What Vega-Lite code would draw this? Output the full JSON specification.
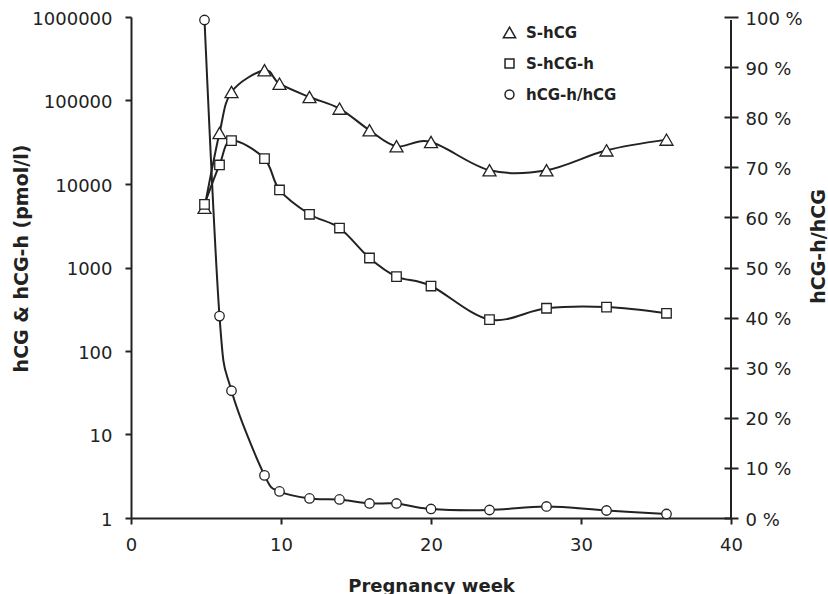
{
  "$schema": "https://vega.github.io/schema/vega-lite/v6.json",
  "width": 600,
  "height": 501,
  "autosize": "none",
  "padding": {"left": 131, "top": 17, "right": 97, "bottom": 76},
  "config": {
    "font": "DejaVu Sans",
    "view": {"stroke": null},
    "axis": {
      "grid": false,
      "labelFlush": false,
      "domainColor": "#222",
      "domainWidth": 2,
      "tickColor": "#222",
      "tickWidth": 2,
      "labelColor": "#222",
      "titleColor": "#222",
      "labelFont": "DejaVu Sans",
      "labelFontSize": 18,
      "titleFont": "DejaVu Sans",
      "titleFontSize": 19,
      "titleFontWeight": "bold"
    }
  },
  "data": {
    "values": [
      {"week": 4.9, "series": "S-hCG", "value": 5200},
      {"week": 5.9, "series": "S-hCG", "value": 40800},
      {"week": 6.7, "series": "S-hCG", "value": 126500},
      {"week": 8.9, "series": "S-hCG", "value": 230000},
      {"week": 9.9, "series": "S-hCG", "value": 159000},
      {"week": 11.9, "series": "S-hCG", "value": 110000},
      {"week": 13.9, "series": "S-hCG", "value": 80000},
      {"week": 15.9, "series": "S-hCG", "value": 44000},
      {"week": 17.7, "series": "S-hCG", "value": 28300},
      {"week": 20.0, "series": "S-hCG", "value": 31800},
      {"week": 23.9, "series": "S-hCG", "value": 14600},
      {"week": 27.7, "series": "S-hCG", "value": 14600},
      {"week": 31.7, "series": "S-hCG", "value": 25300},
      {"week": 35.7, "series": "S-hCG", "value": 34000},
      {"week": 4.9, "series": "S-hCG-h", "value": 5700},
      {"week": 5.9, "series": "S-hCG-h", "value": 16900},
      {"week": 6.7, "series": "S-hCG-h", "value": 33100},
      {"week": 8.9, "series": "S-hCG-h", "value": 20100},
      {"week": 9.9, "series": "S-hCG-h", "value": 8480},
      {"week": 11.9, "series": "S-hCG-h", "value": 4340},
      {"week": 13.9, "series": "S-hCG-h", "value": 2970},
      {"week": 15.9, "series": "S-hCG-h", "value": 1300},
      {"week": 17.7, "series": "S-hCG-h", "value": 778},
      {"week": 20.0, "series": "S-hCG-h", "value": 600},
      {"week": 23.9, "series": "S-hCG-h", "value": 238},
      {"week": 27.7, "series": "S-hCG-h", "value": 325},
      {"week": 31.7, "series": "S-hCG-h", "value": 336},
      {"week": 35.7, "series": "S-hCG-h", "value": 283},
      {"week": 4.9, "series": "hCG-h/hCG", "value": 99.4},
      {"week": 5.9, "series": "hCG-h/hCG", "value": 40.3},
      {"week": 6.7, "series": "hCG-h/hCG", "value": 25.4},
      {"week": 8.9, "series": "hCG-h/hCG", "value": 8.5},
      {"week": 9.9, "series": "hCG-h/hCG", "value": 5.3},
      {"week": 11.9, "series": "hCG-h/hCG", "value": 3.9},
      {"week": 13.9, "series": "hCG-h/hCG", "value": 3.7},
      {"week": 15.9, "series": "hCG-h/hCG", "value": 2.9},
      {"week": 17.7, "series": "hCG-h/hCG", "value": 2.9},
      {"week": 20.0, "series": "hCG-h/hCG", "value": 1.8},
      {"week": 23.9, "series": "hCG-h/hCG", "value": 1.6},
      {"week": 27.7, "series": "hCG-h/hCG", "value": 2.3},
      {"week": 31.7, "series": "hCG-h/hCG", "value": 1.5},
      {"week": 35.7, "series": "hCG-h/hCG", "value": 0.8}
    ]
  },
  "encoding": {
    "x": {
      "field": "week",
      "type": "quantitative",
      "scale": {"domain": [0, 40], "nice": false},
      "axis": {
        "values": [0, 10, 20, 30, 40],
        "tickSize": 6,
        "labelPadding": 12,
        "title": "Pregnancy week",
        "titleFontSize": 18,
        "titleX": 300,
        "titleY": 73,
        "titleBaseline": "alphabetic"
      }
    }
  },
  "layer": [
    {
      "transform": [{"filter": "datum.series !== 'hCG-h/hCG'"}],
      "encoding": {
        "y": {
          "field": "value",
          "type": "quantitative",
          "scale": {"type": "log", "domain": [1, 1000000], "nice": false},
          "axis": {
            "orient": "left",
            "values": [1, 10, 100, 1000, 10000, 100000, 1000000],
            "format": "d",
            "tickSize": 6,
            "labelPadding": 13,
            "labelOffset": 2,
            "title": "hCG & hCG-h (pmol/l)",
            "titleAngle": 270,
            "titleX": -104,
            "titleY": 241,
            "titleBaseline": "alphabetic"
          }
        }
      },
      "layer": [
        {
          "mark": {"type": "line", "interpolate": "cardinal", "color": "#222", "strokeWidth": 2},
          "encoding": {"detail": {"field": "series"}}
        },
        {
          "mark": {"type": "point", "filled": true, "fill": "white", "stroke": "#222", "strokeWidth": 1.3, "opacity": 1, "size": 90},
          "encoding": {
            "shape": {
              "field": "series",
              "type": "nominal",
              "scale": {"domain": ["S-hCG", "S-hCG-h", "hCG-h/hCG"], "range": ["M0,-1.19L1.37,1.19L-1.37,1.19Z", "square", "circle"]},
              "legend": {
                "title": null,
                "orient": "none",
                "legendX": 371,
                "legendY": 8,
                "symbolSize": 80,
                "rowPadding": 15,
                "labelOffset": 9,
                "labelFont": "DejaVu Sans",
                "labelFontSize": 15,
                "labelFontWeight": "bold",
                "labelColor": "#222"
              }
            }
          }
        }
      ]
    },
    {
      "transform": [{"filter": "datum.series === 'hCG-h/hCG'"}],
      "encoding": {
        "y": {
          "field": "value",
          "type": "quantitative",
          "scale": {"domain": [0, 100], "nice": false},
          "axis": {
            "orient": "right",
            "values": [0, 10, 20, 30, 40, 50, 60, 70, 80, 90, 100],
            "labelExpr": "datum.value + ' %'",
            "offset": -7,
            "domain": false,
            "tickSize": 14,
            "labelPadding": 7,
            "labelOffset": 2,
            "title": "hCG-h/hCG",
            "titleAngle": 270,
            "titleX": 100,
            "titleY": 229,
            "titleBaseline": "alphabetic"
          }
        }
      },
      "layer": [
        {
          "mark": {"type": "line", "interpolate": "cardinal", "color": "#222", "strokeWidth": 2},
          "encoding": {}
        },
        {
          "mark": {"type": "rule", "color": "#222", "strokeWidth": 2},
          "encoding": {"x": {"datum": 40}}
        },
        {
          "mark": {"type": "point", "filled": true, "fill": "white", "stroke": "#222", "strokeWidth": 1.3, "opacity": 1, "size": 90},
          "encoding": {
            "shape": {
              "field": "series",
              "type": "nominal",
              "scale": {"domain": ["S-hCG", "S-hCG-h", "hCG-h/hCG"], "range": ["M0,-1.19L1.37,1.19L-1.37,1.19Z", "square", "circle"]}
            }
          }
        }
      ]
    }
  ],
  "resolve": {"scale": {"y": "independent"}}
}
